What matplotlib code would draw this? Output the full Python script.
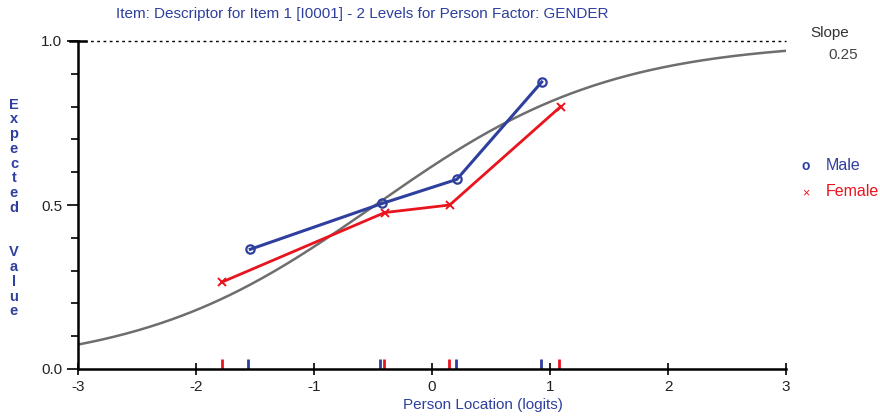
import numpy as np
import matplotlib.pyplot as plt

plt.rcParams['font.family'] = ['Liberation Sans Narrow', 'Liberation Sans', 'DejaVu Sans']

# --------------------------------------------------------------------
#                       DATA
# --------------------------------------------------------------------
male_x = [-1.54, -0.42, 0.21, 0.93]
male_y = [0.365, 0.505, 0.578, 0.875]
female_x = [-1.78, -0.40, 0.15, 1.09]
female_y = [0.265, 0.477, 0.500, 0.800]

# class interval mean locations (rug marks)
male_rug = [-1.56, -0.44, 0.20, 0.92]
female_rug = [-1.78, -0.41, 0.14, 1.08]

item_location = -0.48
item_slope = 0.25

xticks = [-3, -2, -1, 0, 1, 2, 3]
yticks = [0.0, 0.5, 1.0]

blue = '#2e3f9e'
red = '#e8141e'
gray = '#6e6e6e'

# --------------------------------------------------------------------
#                       PLOT
# --------------------------------------------------------------------
fig = plt.figure(figsize=(8.8, 4.17), dpi=100)
ax = fig.add_axes([78 / 880, 1 - 369 / 417, (786 - 78) / 880, (369 - 41) / 417])

# item characteristic curve
xs = np.linspace(-3, 3, 300)
icc = 1 / (1 + np.exp(-4 * item_slope * (xs - item_location)))
ax.plot(xs, icc, color=gray, linewidth=1.8, zorder=2)

ax.plot(male_x, male_y, color=blue, linewidth=2.2, marker='o', markersize=6,
        markerfacecolor='none', markeredgewidth=1.6, zorder=4)
ax.plot(female_x, female_y, color=red, linewidth=2.0, marker='x', markersize=6,
        markeredgewidth=1.4, zorder=3)

# rug marks on the x axis
ax.vlines(female_rug, 0, 0.032, color=red, linewidth=2)
ax.vlines(male_rug, 0, 0.032, color=blue, linewidth=2)

# dotted line at the asymptote
ax.plot([-3, 3], [1, 1], color='black', linestyle=(0, (2, 2.5)), linewidth=1.0, clip_on=False)

ax.set_xlim(-3, 3)
ax.set_ylim(0, 1)
ax.spines['top'].set_visible(False)
ax.spines['right'].set_visible(False)
ax.spines['left'].set_linewidth(1.8)
ax.spines['bottom'].set_linewidth(1.8)

tick_font = ['Liberation Sans', 'DejaVu Sans']
ax.set_xticks(xticks)
ax.set_xticklabels([str(t) for t in xticks], fontsize=11, fontfamily=tick_font, color='#222222')
ax.set_yticks(yticks)
ax.set_yticklabels(['%.1f' % t for t in yticks], fontsize=11, fontfamily=tick_font, color='#222222')
ax.set_yticks(np.arange(0, 1.01, 0.1), minor=True)
ax.tick_params(axis='x', direction='inout', length=8, width=1.2, pad=4)
ax.tick_params(axis='y', which='major', direction='out', length=8, width=1.2)
ax.tick_params(axis='y', which='minor', direction='out', length=5, width=1.2)

# "T" at the top of the y axis
ax.plot([-3.07, -2.93], [1, 1], color='black', linewidth=1.8, clip_on=False)

# texts
fig.text(362 / 880, 1 - 14 / 417, 'Item: Descriptor for Item 1 [I0001] - 2 Levels for Person Factor: GENDER',
         color=blue, fontsize=11, ha='center', va='center')
fig.text(483 / 880, 1 - 405 / 417, 'Person Location (logits)', color=blue, fontsize=11,
         ha='center', va='center')
fig.text(14 / 880, 1 - 208 / 417, '\n'.join('Expected  Value'), color=blue, fontsize=10.5,
         ha='center', va='center', linespacing=1.07, fontweight='bold', fontfamily=tick_font)
fig.text(830 / 880, 1 - 33 / 417, 'Slope', color='#333333', fontsize=11, ha='center', va='center')
fig.text(843 / 880, 1 - 55 / 417, '0.25', color='#444444', fontsize=11, ha='center', va='center',
         fontfamily=tick_font)

fig.text(806 / 880, 1 - 166 / 417, 'o', color=blue, fontsize=10, ha='center', va='center', fontweight='bold')
fig.text(826 / 880, 1 - 165 / 417, 'Male', color=blue, fontsize=11.5, ha='left', va='center')
fig.text(806 / 880, 1 - 193 / 417, '\u00d7', color=red, fontsize=9, ha='center', va='center')
fig.text(826 / 880, 1 - 192 / 417, 'Female', color=red, fontsize=11.5, ha='left', va='center')

plt.savefig('out.png', dpi=100)
